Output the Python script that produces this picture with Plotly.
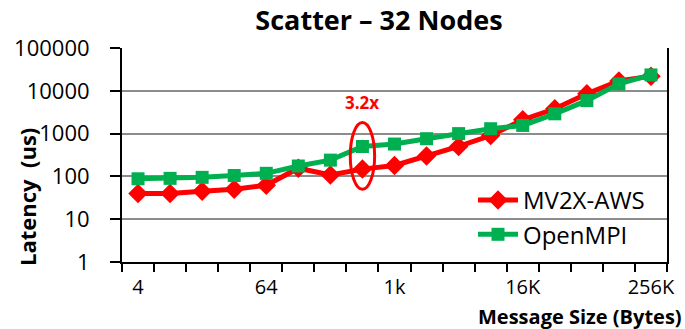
import math
import plotly.graph_objects as go

sizes = ["4", "8", "16", "32", "64", "128", "256", "512", "1024", "2048", "4096",
         "8192", "16384", "32768", "65536", "131072", "262144"]
tick_text = ["4", "", "", "", "64", "", "", "", "1k", "", "", "", "16K", "", "", "", "256K"]
mv2x_aws = [40, 40, 45, 50, 62, 155, 108, 148, 180, 300, 500, 900, 2100, 3800, 8500, 17000, 22000]
openmpi = [88, 90, 95, 105, 118, 175, 240, 500, 570, 760, 1000, 1300, 1550, 2900, 5900, 14500, 23500]
y_ticks = [1, 10, 100, 1000, 10000, 100000]
highlight_idx = 7
highlight_label = "3.2x"

FONT = "Open Sans"
W, H = 685, 329
L, R, T, B = 122, 18, 48, 67
PW, PH = W - L - R, H - T - B


def px(xp):
    return (xp - L) / PW


def py(yp):
    return (H - B - yp) / PH


fig = go.Figure()
fig.add_trace(go.Scatter(
    x=sizes, y=mv2x_aws, name="MV2X-AWS", mode="lines+markers", legendgroup="a",
    line=dict(color="#FF0000", width=5),
    marker=dict(symbol="diamond", size=15, color="#FF0000")))
fig.add_trace(go.Scatter(
    x=sizes, y=openmpi, name="OpenMPI", mode="lines+markers", legendgroup="b",
    line=dict(color="#00B050", width=5),
    marker=dict(symbol="square", size=13, color="#00B050")))

lo = math.log10(mv2x_aws[highlight_idx])
hi = math.log10(openmpi[highlight_idx])
fig.add_shape(type="circle", xref="x", yref="y",
              x0=highlight_idx - 0.38, x1=highlight_idx + 0.38,
              y0=10 ** (lo - 0.47), y1=10 ** (hi + 0.56),
              line=dict(color="#FF0000", width=3))
fig.add_annotation(x=highlight_idx, y=hi + 1.02, xref="x", yref="y",
                   text="<b>" + highlight_label + "</b>", showarrow=False,
                   font=dict(family=FONT, size=17, color="#FF0000"))

fig.add_annotation(x=px(27), y=py(197), xref="paper", yref="paper",
                   xanchor="center", yanchor="middle", text="<b>Latency  (us)</b>",
                   showarrow=False, textangle=-90, font=dict(family=FONT, size=22, color="black"))
fig.add_annotation(x=px(684), y=py(316), xref="paper", yref="paper",
                   xanchor="right", yanchor="middle", text="<b>Message Size (Bytes)</b>",
                   showarrow=False, font=dict(family=FONT, size=20, color="black"))

fig.update_layout(
    width=W, height=H,
    margin=dict(l=L, r=R, t=T, b=B, autoexpand=False),
    paper_bgcolor="white", plot_bgcolor="white",
    title=dict(text="<b>Scatter – 32 Nodes</b>", x=px(379), xref="paper", y=1 - 21 / H, yref="container",
               xanchor="center", yanchor="middle", automargin=False,
               font=dict(family=FONT, size=27, color="black")),
    font=dict(family=FONT, size=22, color="black"),
    showlegend=True,
    legend=dict(x=px(650), xanchor="right", y=py(257), yanchor="bottom", bgcolor="rgba(0,0,0,0)",
                font=dict(family=FONT, size=24, color="black"), itemwidth=40,
                tracegroupgap=0),
    xaxis=dict(type="category", tickmode="array", tickvals=sizes, ticktext=tick_text,
               tickson="boundaries", ticks="outside", ticklen=8, tickwidth=1.5, tickcolor="black",
               showline=True, linecolor="black", linewidth=2, showgrid=False,
               mirror=False, range=[-0.5, 16.5], ticklabelstandoff=6, tickangle=0,
               automargin=False, tickfont=dict(family=FONT, size=20)),
    yaxis=dict(type="log", range=[0, 5], tickvals=y_ticks, ticktext=[str(v) for v in y_ticks],
               ticks="outside", ticklen=10, tickwidth=1.5, tickcolor="black",
               showline=True, linecolor="black", linewidth=2, mirror=True,
               showgrid=True, gridcolor="#8c8c8c", gridwidth=1.5, zeroline=False,
               ticklabelstandoff=16, automargin=False, tickfont=dict(family=FONT, size=22)),
)

fig.write_html("out.html")
